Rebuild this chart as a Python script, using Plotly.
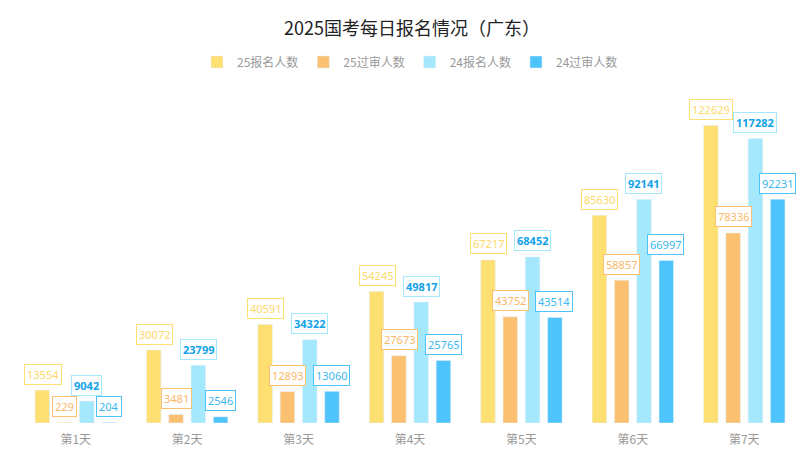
import plotly.graph_objects as go

days = ["第1天","第2天","第3天","第4天","第5天","第6天","第7天"]
names = ["25报名人数","25过审人数","24报名人数","24过审人数"]
s25_apply = [13554,30072,40591,54245,67217,85630,122629]
s25_pass = [229,3481,12893,27673,43752,58857,78336]
s24_apply = [9042,23799,34322,49817,68452,92141,117282]
s24_pass = [204,2546,13060,25765,43514,66997,92231]
colors = ["#fedf72","#fbc070","#a3e8fc","#4ec4fb"]
textcolors = ["#fdd86a","#f9b868","#12a2e8","#3bb8f0"]
series = [s25_apply,s25_pass,s24_apply,s24_pass]
shifts = [-33,-11,11,33]

fig = go.Figure()
for n,c,s in zip(names,colors,series):
    fig.add_bar(x=days,y=s,name=n,marker_color=c)
for i,(s,tc,bc) in enumerate(zip(series,textcolors,colors)):
    for d,v in zip(days,s):
        fig.add_annotation(x=d,y=v,text=str(v),showarrow=False,xshift=shifts[i],yshift=16,
            font=dict(size=11,color=tc,family="Noto Sans",weight="bold" if i==2 else "normal"),
            bgcolor="white",bordercolor=bc,borderwidth=1,borderpad=2)
fig.update_layout(
    width=808,height=451,plot_bgcolor="white",paper_bgcolor="white",
    title=dict(text="2025国考每日报名情况（广东）",x=0.5,y=1-21/451,yanchor="middle",xanchor="center",
               font=dict(size=18,color="#222",family="Noto Sans CJK SC")),
    legend=dict(orientation="h",x=0.5,xanchor="center",yref="container",y=1-54/451,yanchor="middle",
                font=dict(size=12,color="#999",family="Noto Sans CJK SC"),itemwidth=30),
    margin=dict(l=12,r=16,t=85,b=34),
    bargap=0.2,bargroupgap=0.35,showlegend=True,
    font=dict(family="Noto Sans CJK SC"),
)
fig.update_yaxes(range=[0,136000],visible=False)
fig.update_xaxes(showline=False,tickfont=dict(size=12,color="#999"),ticklen=6,ticks="outside",tickcolor="white")
fig.write_html("out.html")
